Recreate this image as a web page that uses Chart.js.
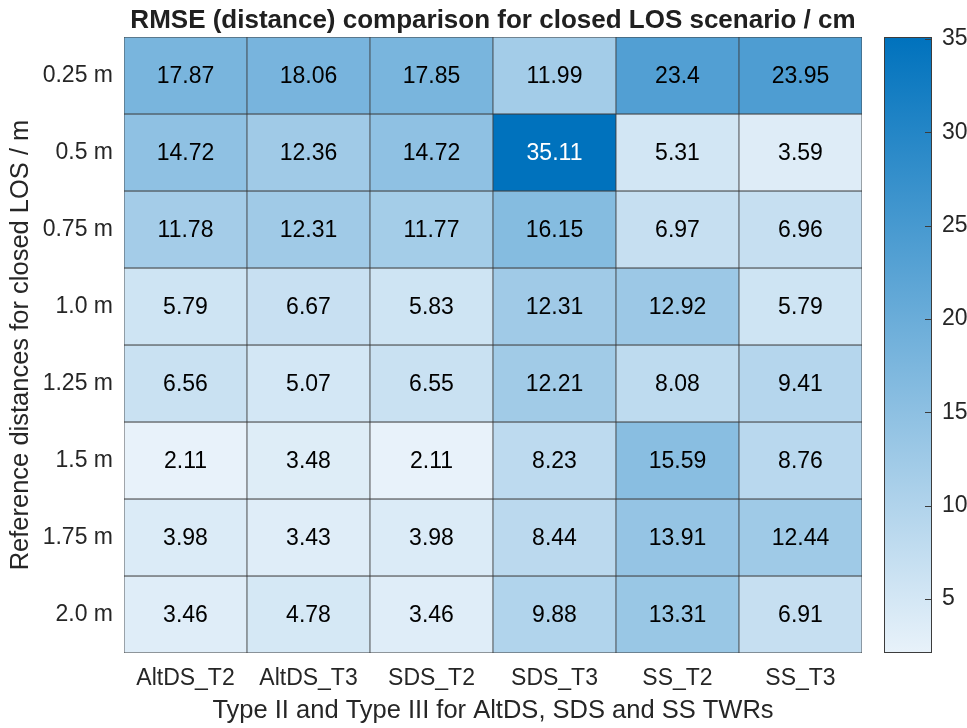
<!DOCTYPE html>
<html><head><meta charset="utf-8">
<script src="https://cdn.jsdelivr.net/npm/chart.js@4.4.1/dist/chart.umd.min.js"></script>
<style>html,body{margin:0;padding:0;background:#fff}canvas{display:block}</style>
</head><body>
<canvas id="c" width="967" height="728" style="width:967px;height:728px"></canvas>
<script>
const columns = ['AltDS_T2','AltDS_T3','SDS_T2','SDS_T3','SS_T2','SS_T3'];
const rowLabels = ['0.25 m','0.5 m','0.75 m','1.0 m','1.25 m','1.5 m','1.75 m','2.0 m'];
const altdsT2 = [17.87,14.72,11.78,5.79,6.56,2.11,3.98,3.46];
const altdsT3 = [18.06,12.36,12.31,6.67,5.07,3.48,3.43,4.78];
const sdsT2   = [17.85,14.72,11.77,5.83,6.55,2.11,3.98,3.46];
const sdsT3   = [11.99,35.11,16.15,12.31,12.21,8.23,8.44,9.88];
const ssT2    = [23.4,5.31,6.97,12.92,8.08,15.59,13.91,13.31];
const ssT3    = [23.95,3.59,6.96,5.79,9.41,8.76,12.44,6.91];
const colorbarTicks = [5,10,15,20,25,30,35];
const titleText = 'RMSE (distance) comparison for closed LOS scenario / cm';
const xTitle = 'Type II and Type III for AltDS, SDS and SS TWRs';
const yTitle = 'Reference distances for closed LOS / m';

const FONT = "'Liberation Sans', Arial, Helvetica, sans-serif";
const series = [altdsT2, altdsT3, sdsT2, sdsT3, ssT2, ssT3];
const allVals = series.flat();
const vMin = Math.min(...allVals), vMax = Math.max(...allVals);
const LOW = [232,242,250], HIGH = [0,114,189];
function tOf(v){ return (v - vMin) / (vMax - vMin); }
function colorAt(t){ return 'rgb(' + LOW.map((c,i) => Math.round(c + (HIGH[i]-c)*t)).join(',') + ')'; }

const datasets = rowLabels.map((lab, r) => ({
  label: lab,
  data: columns.map(() => [r, r + 1]),
  values: series.map(s => s[r]),
  backgroundColor: series.map(s => colorAt(tOf(s[r]))),
  borderColor: '#3c3c3c',
  borderWidth: 0.75,
  borderSkipped: false,
  barPercentage: 1,
  categoryPercentage: 1,
  grouped: false,
  yAxisID: 'y'
}));

function noPad(s){ s.paddingTop = 0; s.paddingBottom = 0; s.paddingLeft = 0; s.paddingRight = 0; }

const cellLabels = {
  id: 'cellLabels',
  afterDatasetsDraw(chart) {
    const ctx = chart.ctx;
    ctx.save();
    ctx.font = '23px ' + FONT;
    ctx.textAlign = 'center';
    ctx.textBaseline = 'middle';
    chart.data.datasets.forEach((ds, di) => {
      chart.getDatasetMeta(di).data.forEach((el, ci) => {
        const v = ds.values[ci];
        ctx.fillStyle = tOf(v) > 0.8 ? '#ffffff' : '#000000';
        ctx.fillText(String(v), el.x, (el.y + el.base) / 2 + 1);
      });
    });
    ctx.restore();
  }
};

const colorbar = {
  id: 'colorbar',
  afterDraw(chart) {
    const cb = chart.scales.cb;
    const ctx = chart.ctx;
    const x0 = cb.left + 22, w = 48;
    const yTop = cb.getPixelForValue(vMax), yBot = cb.getPixelForValue(vMin);
    ctx.save();
    const g = ctx.createLinearGradient(0, yBot, 0, yTop);
    g.addColorStop(0, colorAt(0));
    g.addColorStop(1, colorAt(1));
    ctx.fillStyle = g;
    ctx.fillRect(x0, yTop, w, yBot - yTop);
    ctx.strokeStyle = '#3c3c3c';
    ctx.lineWidth = 1;
    ctx.strokeRect(x0 + 0.5, yTop + 0.5, w - 1, yBot - yTop - 1);
    ctx.beginPath();
    colorbarTicks.forEach(v => {
      const y = Math.round(cb.getPixelForValue(v)) + 0.5;
      ctx.moveTo(x0 + w - 7, y);
      ctx.lineTo(x0 + w, y);
    });
    ctx.stroke();
    ctx.restore();
  }
};

const titlePlugin = {
  id: 'topTitle',
  afterDraw(chart) {
    const ctx = chart.ctx, a = chart.chartArea;
    ctx.save();
    ctx.font = 'bold 26px ' + FONT;
    ctx.fillStyle = '#202020';
    ctx.textAlign = 'center';
    ctx.textBaseline = 'middle';
    ctx.fillText(titleText, (a.left + a.right) / 2, 21);
    ctx.restore();
  }
};

new Chart(document.getElementById('c'), {
  type: 'bar',
  data: { labels: columns, datasets },
  options: {
    responsive: false,
    devicePixelRatio: 1,
    animation: false,
    layout: { padding: { top: 37, left: 0, right: 0, bottom: 0 } },
    plugins: { legend: { display: false }, tooltip: { enabled: false }, title: { display: false } },
    scales: {
      x: {
        type: 'category', offset: true,
        grid: { display: false, drawTicks: false }, border: { display: false },
        ticks: { padding: 12, color: '#262626', font: { family: FONT, size: 23 }, maxRotation: 0, autoSkip: false },
        title: { display: true, text: xTitle, color: '#262626', font: { family: FONT, size: 25.5 }, padding: { top: 0, bottom: 2 } },
        afterFit(s) { s.height = 75; noPad(s); }
      },
      y: {
        type: 'linear', min: 0, max: 8, reverse: true, position: 'left',
        grid: { display: false, drawTicks: false }, border: { display: false },
        afterBuildTicks(s) { s.ticks = rowLabels.map((_, i) => ({ value: i + 0.5 })); },
        ticks: { padding: 11, color: '#262626', font: { family: FONT, size: 23 }, callback: (v, i) => rowLabels[i] },
        title: { display: true, text: yTitle, color: '#262626', font: { family: FONT, size: 25.5 }, padding: { top: 6, bottom: 0 } },
        afterFit(s) { s.width = 124; noPad(s); }
      },
      cb: {
        type: 'linear', position: 'right', min: vMin, max: vMax,
        grid: { display: false, drawTicks: false }, border: { display: false },
        afterBuildTicks(s) { s.ticks = colorbarTicks.map(v => ({ value: v })); },
        ticks: { padding: 80, color: '#262626', font: { family: FONT, size: 23 } },
        afterFit(s) { s.width = 105; noPad(s); }
      }
    }
  },
  plugins: [cellLabels, colorbar, titlePlugin]
});
</script>
</body></html>
